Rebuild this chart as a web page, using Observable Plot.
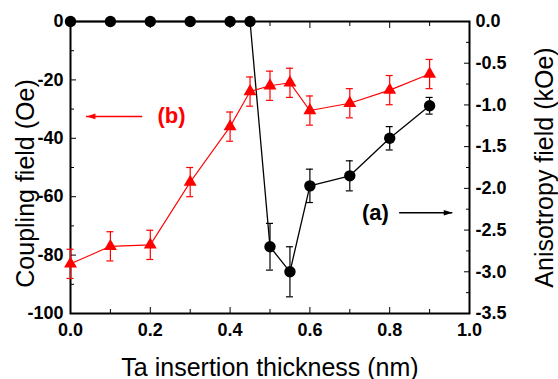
<!DOCTYPE html>
<html><head><meta charset="utf-8">
<script src="https://cdn.jsdelivr.net/npm/d3@7"></script>
<script src="https://cdn.jsdelivr.net/npm/@observablehq/plot@0.6"></script>
<style>
body{margin:0;background:#fff;}
svg{font-family:"Liberation Sans", Arial, sans-serif;}
</style>
</head><body><div id="chart"></div>
<script>
// (a) Anisotropy field, kOe (right axis)
const thicknessA = [0, 0.1, 0.2, 0.3, 0.4, 0.45, 0.5, 0.55, 0.6, 0.7, 0.8, 0.9];
const anisotropyKOe = [0, 0, 0, 0, 0, 0, -2.70, -3.00, -1.97, -1.85, -1.40, -1.01];
const anisotropyErr = [0, 0, 0, 0, 0, 0, 0.28, 0.30, 0.20, 0.18, 0.14, 0.10];
// (b) Coupling field, Oe (left axis)
const thicknessB = [0, 0.1, 0.2, 0.3, 0.4, 0.45, 0.5, 0.55, 0.6, 0.7, 0.8, 0.9];
const couplingOe = [-83, -77, -76.5, -55, -36, -24, -22, -21, -30.5, -28, -23.5, -18];
const couplingErr = [5, 5, 5, 5, 5, 5, 5, 5, 5, 5, 5, 5];
// ticks
const xTicks = [0, 0.2, 0.4, 0.6, 0.8, 1.0];
const xMinor = [0.1, 0.3, 0.5, 0.7, 0.9];
const leftTicks = [0, -20, -40, -60, -80, -100];
const leftMinor = [-10, -30, -50, -70, -90];
const rightTicks = [0, -0.5, -1.0, -1.5, -2.0, -2.5, -3.0, -3.5];
const rightMinor = [-0.25, -0.75, -1.25, -1.75, -2.25, -2.75, -3.25];
// titles & annotations
const xTitle = "Ta insertion thickness (nm)";
const leftTitle = "Coupling field (Oe)";
const rightTitle = "Anisotropy field (kOe)";
const annLabels = ["(b)", "(a)"];
const annLabelX = [0.253, 0.764];
const annArrowFrom = [0.181, 0.825];
const annArrowTo = [0.040, 0.958];
const annY = [-32.5, -65.5];
const annColors = ["#ff0000", "#000000"];

const leftMax = 100, rightMax = 3.5;
const K = leftMax / rightMax; // kOe -> left-axis units

const dataA = thicknessA.map((x, i) => ({x, y: anisotropyKOe[i] * K, lo: (anisotropyKOe[i] - anisotropyErr[i]) * K, hi: (anisotropyKOe[i] + anisotropyErr[i]) * K, e: anisotropyErr[i]}));
const errA = dataA.filter(d => d.e > 0);
const dataB = thicknessB.map((x, i) => ({x, y: couplingOe[i], lo: couplingOe[i] - couplingErr[i], hi: couplingOe[i] + couplingErr[i]}));
const ann = annLabels.map((t, i) => ({t, lx: annLabelX[i], x1: annArrowFrom[i], x2: annArrowTo[i], y: annY[i], c: annColors[i], rot: annArrowTo[i] < annArrowFrom[i] ? -90 : 90}));

const arrowHead = {draw(ctx, size) { const L = 9, w = 2.8; ctx.moveTo(0, 0); ctx.lineTo(-w, L); ctx.lineTo(w, L); ctx.closePath(); }};

const tickFont = {fontSize: 18, fontWeight: "bold"};
const titleOpts = {text: d => d, fontSize: 25, fill: "black", textAnchor: "middle", lineAnchor: "middle"};
const chart = Plot.plot({
  width: 558, height: 379,
  marginLeft: 70, marginRight: 89, marginTop: 21, marginBottom: 66,
  x: {domain: [0, 1], axis: null},
  y: {domain: [-100, 0], axis: null},
  marks: [
    // axes ticks (inward)
    Plot.axisX(xTicks, {anchor: "bottom", tickSize: -6, tickPadding: 16, tickFormat: d => d.toFixed(1), label: null, ...tickFont}),
    Plot.axisX(xMinor, {anchor: "bottom", tickSize: -4, tickFormat: () => "", label: null}),
    Plot.axisX(xTicks, {anchor: "top", tickSize: -6, tickFormat: () => "", label: null}),
    Plot.axisX(xMinor, {anchor: "top", tickSize: -4, tickFormat: () => "", label: null}),
    Plot.axisY(leftTicks, {anchor: "left", tickSize: -6, tickPadding: 13, tickFormat: d => d.toFixed(0), label: null, ...tickFont}),
    Plot.axisY(leftMinor, {anchor: "left", tickSize: -4, tickFormat: () => "", label: null}),
    Plot.axisY(rightTicks.map(v => v * K), {anchor: "right", tickSize: -6, tickPadding: 12, tickFormat: d => (d / K).toFixed(1), label: null, ...tickFont}),
    Plot.axisY(rightMinor.map(v => v * K), {anchor: "right", tickSize: -4, tickFormat: () => "", label: null}),
    Plot.frame({stroke: "black", strokeWidth: 2}),
    // series (a)
    Plot.line(dataA, {x: "x", y: "y", stroke: "black", strokeWidth: 1.3}),
    Plot.ruleX(errA, {x: "x", y1: "lo", y2: "hi", stroke: "black", strokeWidth: 1.2}),
    Plot.ruleY(errA, {y: "lo", x1: "x", x2: "x", insetLeft: -3.5, insetRight: -3.5, stroke: "black", strokeWidth: 1.2}),
    Plot.ruleY(errA, {y: "hi", x1: "x", x2: "x", insetLeft: -3.5, insetRight: -3.5, stroke: "black", strokeWidth: 1.2}),
    Plot.dot(dataA, {x: "x", y: "y", r: 5.7, fill: "black", stroke: null}),
    // series (b)
    Plot.line(dataB, {x: "x", y: "y", stroke: "#ff0000", strokeWidth: 1.1}),
    Plot.ruleX(dataB, {x: "x", y1: "lo", y2: "hi", stroke: "#ff0000", strokeWidth: 1.2}),
    Plot.ruleY(dataB, {y: "lo", x1: "x", x2: "x", insetLeft: -3.5, insetRight: -3.5, stroke: "#ff0000", strokeWidth: 1.2}),
    Plot.ruleY(dataB, {y: "hi", x1: "x", x2: "x", insetLeft: -3.5, insetRight: -3.5, stroke: "#ff0000", strokeWidth: 1.2}),
    Plot.dot(dataB, {x: "x", y: "y", r: 4.8, symbol: "triangle", fill: "#ff0000", stroke: null}),
    // annotations
    Plot.ruleY(ann, {y: "y", x1: "x1", x2: "x2", stroke: "c", strokeWidth: 1.5}),
    Plot.dot(ann, {x: "x2", y: "y", symbol: arrowHead, rotate: "rot", fill: "c", stroke: null, r: 3}),
    Plot.text(ann, {x: "lx", y: "y", text: "t", fill: "c", fontSize: 22, fontWeight: "bold"}),
    // titles
    Plot.text([xTitle], {...titleOpts, frameAnchor: "bottom", dy: 54}),
    Plot.text([leftTitle], {...titleOpts, frameAnchor: "left", dx: -45, dy: 16, rotate: -90}),
    Plot.text([rightTitle], {...titleOpts, frameAnchor: "right", dx: 75, dy: 0, rotate: -90})
  ]
});
document.getElementById("chart").appendChild(chart);
</script>
</body></html>
